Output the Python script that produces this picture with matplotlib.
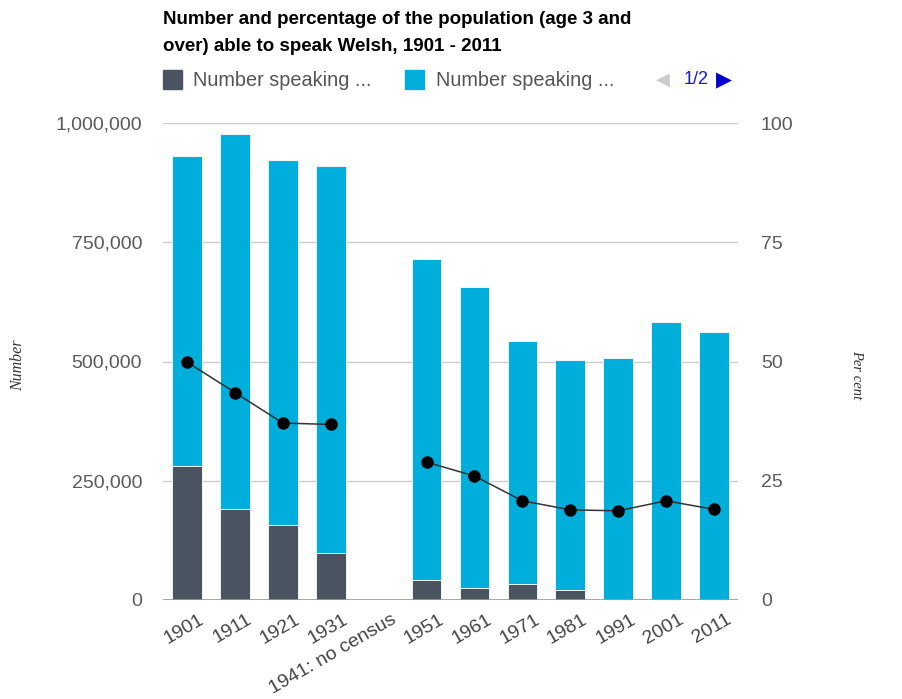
import matplotlib
matplotlib.use("Agg")
import matplotlib.pyplot as plt
import matplotlib.transforms as mtransforms
from matplotlib.patches import Rectangle
import numpy as np

plt.rcParams['font.family'] = ['Liberation Sans', 'DejaVu Sans']

years = ['1901', '1911', '1921', '1931', '1941: no census', '1951', '1961',
         '1971', '1981', '1991', '2001', '2011']
# number speaking Welsh only (dark) and number speaking Welsh in total
welsh_only = [280900, 190300, 157000, 97900, np.nan, 41200, 26200, 32700,
              21300, 0, 0, 0]
welsh_total = [929800, 977400, 922100, 909300, np.nan, 714700, 656000, 542400,
               503500, 508100, 582400, 562000]
percent = [49.9, 43.5, 37.1, 36.8, np.nan, 28.9, 26.0, 20.8, 18.9, 18.7,
           20.8, 19.0]

dark = '#4a5461'
light = '#00aedb'

fig = plt.figure(figsize=(9.02, 6.99), dpi=100)
ax = fig.add_axes([163 / 902, 1 - 600 / 699, 575 / 902, 477 / 699])
ax2 = ax.twinx()

x = np.arange(len(years))
only = np.nan_to_num(np.array(welsh_only, dtype=float))
rest = np.nan_to_num(np.array(welsh_total, dtype=float)) - only
ax.bar(x, only, width=0.62, color=dark, edgecolor='white', linewidth=0.6, zorder=3)
ax.bar(x, rest, bottom=only, width=0.62, color=light, edgecolor='white',
       linewidth=0.6, zorder=3)

ax2.plot(x, percent, color='#333333', lw=1.1, marker='o', ms=8,
         mfc='black', mec='black', zorder=4)

ax.set_xlim(-0.5, len(years) - 0.5)
ax.set_ylim(0, 1000000)
ax2.set_ylim(0, 100)
ax.set_yticks([0, 250000, 500000, 750000, 1000000])
ax.set_yticklabels(['0', '250,000', '500,000', '750,000', '1,000,000'])
ax2.set_yticks([0, 25, 50, 75, 100])
ax.grid(axis='y', color='#cccccc', lw=1, zorder=0)
ax.set_axisbelow(True)
for a in (ax, ax2):
    for s in a.spines.values():
        s.set_visible(False)
    a.tick_params(length=0, labelsize=14, labelcolor='#5a5a5a')
ax.tick_params(axis='y', pad=15)
ax2.tick_params(axis='y', pad=16.5)
ax.axhline(0, color='#999999', lw=1.2, zorder=5)

ax.set_xticks(x)
ax.set_xticklabels(years, rotation=30, ha='right', va='center',
                   rotation_mode='anchor')
ax.tick_params(axis='x', pad=13, labelcolor='#444444')
offset = mtransforms.ScaledTranslation(0.16, 0, fig.dpi_scale_trans)
for lab in ax.get_xticklabels():
    lab.set_transform(lab.get_transform() + offset)

ax2.set_zorder(ax.get_zorder() + 1)
ax2.patch.set_visible(False)

fig.text(163 / 902, 1 - 11 / 699,
         'Number and percentage of the population (age 3 and\n'
         'over) able to speak Welsh, 1901 - 2011',
         ha='left', va='top', fontsize=13.5, fontweight='bold',
         linespacing=1.75, color='black')

# legend row
for lx, col in ((163, dark), (405, light)):
    fig.patches.append(Rectangle((lx / 902, 1 - 89 / 699), 19 / 902, 19 / 699,
                                 transform=fig.transFigure, color=col))
fig.text(193 / 902, 1 - 80 / 699, 'Number speaking ...', fontsize=14.3,
         color='#555555', va='center')
fig.text(436 / 902, 1 - 80 / 699, 'Number speaking ...', fontsize=14.3,
         color='#555555', va='center')
fig.text(656 / 902, 1 - 80 / 699, '\u25c0', fontsize=13, color='#cccccc',
         va='center', family='DejaVu Sans')
fig.text(684 / 902, 1 - 80 / 699, '1/2', fontsize=13, color='#1a1acc',
         va='center')
fig.text(716 / 902, 1 - 80 / 699, '\u25b6', fontsize=15, color='#0000cc',
         va='center', family='DejaVu Sans')

fig.text(18 / 902, 1 - 365 / 699, 'Number', rotation=90, ha='center',
         va='center', fontsize=11.5, style='italic', family='Liberation Serif',
         color='#333333')
fig.text(857 / 902, 1 - 375 / 699, 'Per cent', rotation=-90, ha='center',
         va='center', fontsize=10.5, style='italic', family='Liberation Serif',
         color='#333333')

fig.savefig('out.png', dpi=100)
